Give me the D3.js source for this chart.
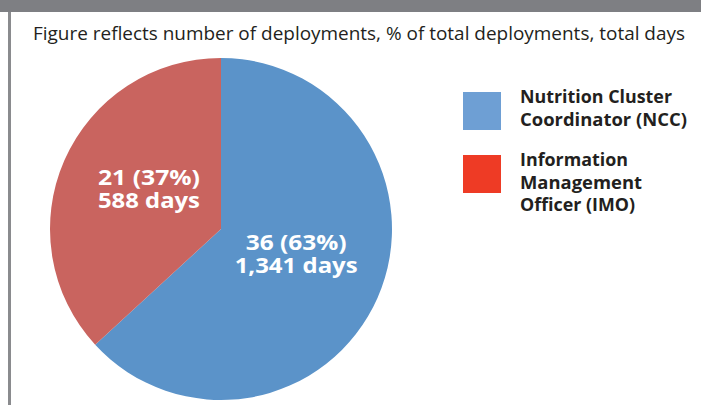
<!DOCTYPE html>
<html>
<head>
<meta charset="utf-8">
<script src="https://cdn.jsdelivr.net/npm/d3@7"></script>
<style>
	body { margin: 0; background: #fff; }
	svg { display: block; }
</style>
</head>
<body>
<div id="chart"></div>
<script>
// roles, deployments and days
var roles = ["Nutrition Cluster Coordinator (NCC)", "Information Management Officer (IMO)"];
var deployments = [36, 21];
var percents = [63, 37];
var days = ["1,341", "588"];
var pieColors = ["#5b93c9", "#c9645f"];
var legendColors = ["#6e9fd4", "#ee3b25"];
var legendLines = [["Nutrition Cluster", "Coordinator (NCC)"], ["Information", "Management", "Officer (IMO)"]];
var subtitle = "Figure reflects number of deployments, % of total deployments, total days";

var W = 701, H = 407;
var svg = d3.select("#chart").append("svg")
	.attr("width", W)
	.attr("height", H);

// frame: dark header band + left rule
svg.append("rect")
	.attr("x", 0).attr("y", 0)
	.attr("width", W).attr("height", 12)
	.attr("fill", "#7e7f83");
svg.append("rect")
	.attr("x", 8).attr("y", 12)
	.attr("width", 3).attr("height", 393)
	.attr("fill", "#8a8b8e");

svg.append("text")
	.attr("x", 33).attr("y", 40)
	.attr("textLength", 652)
	.attr("lengthAdjust", "spacingAndGlyphs")
	.style("font-family", "'Open Sans', sans-serif")
	.style("font-size", "17.5px")
	.attr("fill", "#231f20")
	.text(subtitle);

var data = roles.map(function(r, i) {
	return {role: r, n: deployments[i], pct: percents[i], days: days[i], color: pieColors[i]};
});

var cx = 221, cy = 229, r = 171;
var pie = d3.pie().sort(null).value(function(d) { return d.n; });
var arc = d3.arc().innerRadius(0).outerRadius(r);

var g = svg.append("g").attr("transform", "translate(" + cx + "," + cy + ")");
var arcs = pie(data);

g.selectAll("path")
	.data(arcs)
	.enter().append("path")
	.attr("d", arc)
	.attr("fill", function(d) { return d.data.color; });

// label positions along each slice's bisector
var labelRadius = [0.48, 0.46];
var labelWidths = [[101, 123], [102, 102]];
arcs.forEach(function(a, i) {
	var mid = (a.startAngle + a.endAngle) / 2;
	var lr = r * labelRadius[i];
	var lx = Math.sin(mid) * lr;
	var ly = -Math.cos(mid) * lr;
	var t = g.append("text")
		.attr("text-anchor", "middle")
		.attr("fill", "#fff")
		.style("font-family", "'Open Sans', sans-serif")
		.style("font-weight", "bold")
		.style("font-size", "21px");
	t.append("tspan")
		.attr("x", lx).attr("y", ly - 12)
		.attr("textLength", labelWidths[i][0])
		.attr("lengthAdjust", "spacingAndGlyphs")
		.text(a.data.n + " (" + a.data.pct + "%)");
	t.append("tspan")
		.attr("x", lx).attr("y", ly + 11)
		.attr("textLength", labelWidths[i][1])
		.attr("lengthAdjust", "spacingAndGlyphs")
		.text(a.data.days + " days");
});

// legend
var legendY = [92, 155];
var legendWidths = [[152, 167], [108, 122, 115]];
var legend = svg.append("g");
roles.forEach(function(r, i) {
	legend.append("rect")
		.attr("x", 463).attr("y", legendY[i])
		.attr("width", 38).attr("height", 38)
		.attr("fill", legendColors[i]);
	var t = legend.append("text")
		.attr("fill", "#231f20")
		.style("font-family", "'Open Sans', sans-serif")
		.style("font-weight", "bold")
		.style("font-size", "17px");
	legendLines[i].forEach(function(line, j) {
		t.append("tspan")
			.attr("x", 520)
			.attr("y", legendY[i] + 11 + j * 22.5)
			.attr("textLength", legendWidths[i][j])
			.attr("lengthAdjust", "spacingAndGlyphs")
			.text(line);
	});
});
</script>
</body>
</html>
